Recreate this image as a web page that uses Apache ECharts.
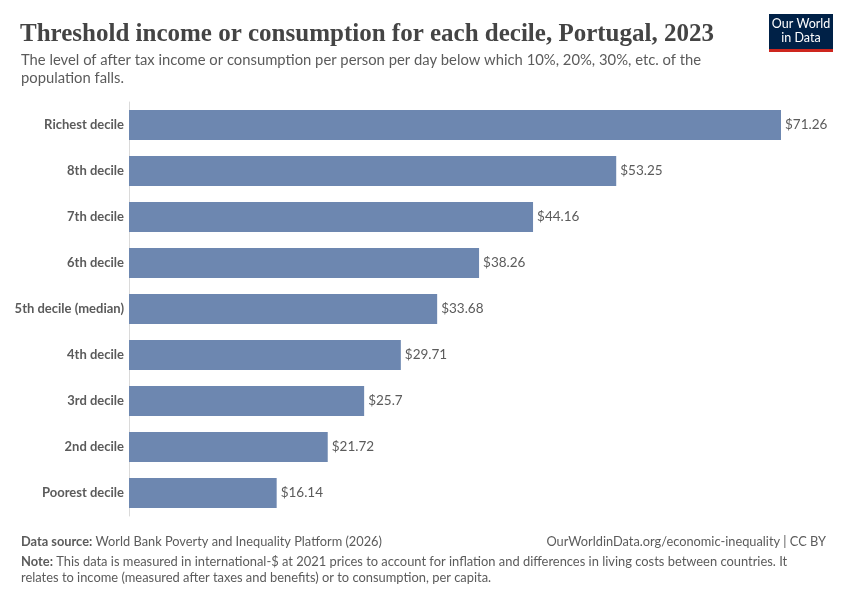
<!DOCTYPE html>
<html>
<head>
<meta charset="utf-8">
<script src="https://cdn.jsdelivr.net/npm/echarts@6/dist/echarts.min.js"></script>
<style>
  html, body { margin: 0; padding: 0; background: #fff; }
  #chart { width: 850px; height: 600px; }
</style>
</head>
<body>
<div id="chart"></div>
<script>
// deciles, top to bottom as drawn
var categories = [
  "Richest decile", "8th decile", "7th decile", "6th decile",
  "5th decile (median)", "4th decile", "3rd decile", "2nd decile", "Poorest decile"
];
var values = [71.26, 53.25, 44.16, 38.26, 33.68, 29.71, 25.7, 21.72, 16.14];

var myChart = echarts.init(document.getElementById("chart"));
var grey = "#5b5b5b";
var font = "Lato, 'Noto Sans', sans-serif";

myChart.setOption({
  animation: false,
  title: [
    {
      text: "Threshold income or consumption for each decile, Portugal, 2023",
      left: 15, top: 17,
      textStyle: { fontFamily: "'Liberation Serif', serif", fontSize: 25, fontWeight: "bold", color: "#444" }
    },
    {
      text: "The level of after tax income or consumption per person per day below which 10%, 20%, 30%, etc. of the\npopulation falls.",
      left: 16, top: 46,
      textStyle: { fontFamily: font, fontSize: 14.8, fontWeight: "normal", color: grey, lineHeight: 18 }
    },
    {
      text: "{b|Data source:} World Bank Poverty and Inequality Platform (2026)",
      left: 16, top: 530,
      textStyle: {
        fontFamily: font, fontSize: 12.8, fontWeight: "normal", color: grey,
        rich: { b: { fontFamily: font, fontSize: 12.8, fontWeight: "bold", color: grey } }
      }
    },
    {
      text: "OurWorldinData.org/economic-inequality | CC BY",
      right: 19, top: 530,
      textStyle: { fontFamily: font, fontSize: 12.8, fontWeight: "normal", color: grey }
    },
    {
      text: "{b|Note:} This data is measured in international-$ at 2021 prices to account for inflation and differences in living costs between countries. It\nrelates to income (measured after taxes and benefits) or to consumption, per capita.",
      left: 16, top: 549,
      textStyle: {
        fontFamily: font, fontSize: 12.9, fontWeight: "normal", color: grey, lineHeight: 16,
        rich: { b: { fontFamily: font, fontSize: 12.9, fontWeight: "bold", color: grey, lineHeight: 16 } }
      }
    }
  ],
  graphic: [
    { type: "rect", left: 769, top: 14, shape: { width: 64, height: 35 }, style: { fill: "#002147" } },
    { type: "rect", left: 769, top: 49, shape: { width: 64, height: 3 }, style: { fill: "#ce261e" } },
    {
      type: "text", x: 801, y: 17,
      style: { text: "Our World\nin Data", fill: "#fff", font: "12.5px Lato, sans-serif", lineHeight: 14, align: "center", verticalAlign: "top" }
    }
  ],
  grid: { left: 129, right: 69, top: 102, bottom: 84, containLabel: false },
  xAxis: {
    type: "value",
    min: 0,
    max: "dataMax",
    show: false
  },
  yAxis: {
    type: "category",
    inverse: true,
    data: categories,
    axisLine: { show: true, lineStyle: { color: "#dadada", width: 1 } },
    axisTick: { show: false },
    axisLabel: { color: grey, fontFamily: font, fontSize: 13, fontWeight: "bold", margin: 5, padding: [3, 0, 0, 0] }
  },
  series: [
    {
      type: "bar",
      data: values,
      barCategoryGap: "35%",
      itemStyle: { color: "#6d87b0" },
      label: {
        show: true,
        position: "right",
        distance: 4,
        color: grey,
        fontFamily: font,
        fontSize: 13.5,
        formatter: function (p) { return "$" + p.value; }
      }
    }
  ]
});
</script>
</body>
</html>
